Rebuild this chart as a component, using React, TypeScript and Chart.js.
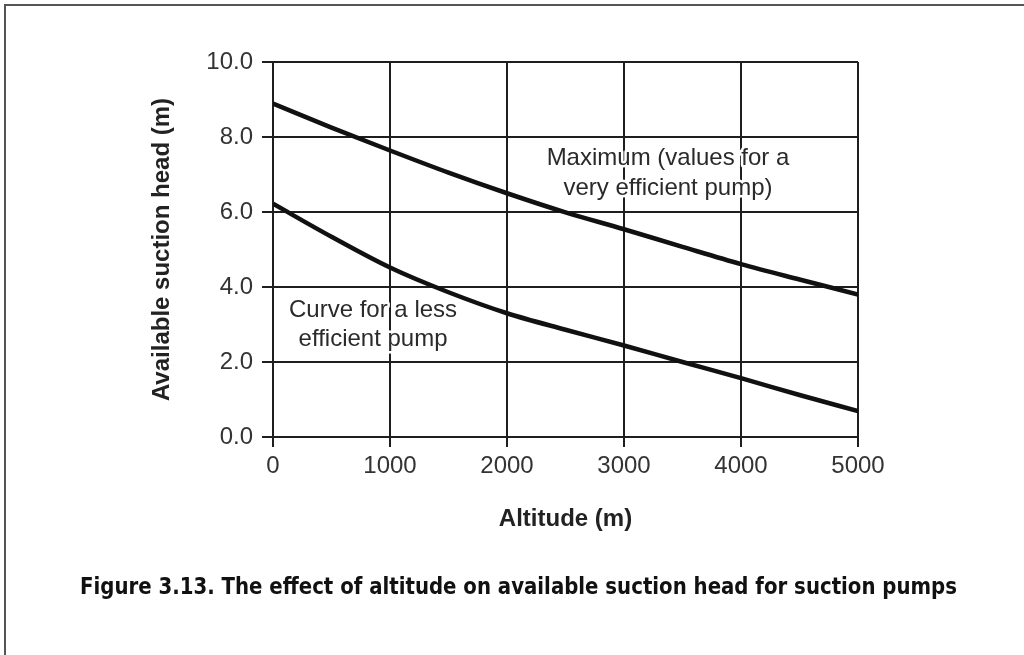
import React, { useEffect, useRef } from "react";
import { Chart, registerables } from "chart.js";

Chart.register(...registerables);

// Data
const ALTITUDES = [0, 500, 1000, 1500, 2000, 2500, 3000, 3500, 4000, 4500, 5000];
const MAX_HEAD = [8.89, 8.25, 7.64, 7.05, 6.5, 5.99, 5.54, 5.07, 4.61, 4.2, 3.8];
const LESS_HEAD = [6.22, 5.34, 4.52, 3.86, 3.3, 2.86, 2.44, 2.0, 1.57, 1.12, 0.69];
const X_TICKS = [0, 1000, 2000, 3000, 4000, 5000];
const Y_TICK_STEP = 2;

const X_TITLE = "Altitude (m)";
const Y_TITLE = "Available suction head (m)";
const MAX_LABEL = ["Maximum (values for a", "very efficient pump)"];
const LESS_LABEL = ["Curve for a less", "efficient pump"];
const CAPTION = "Figure 3.13. The effect of altitude on available suction head for suction pumps";

const FONT = '"Liberation Sans", Arial, Helvetica, sans-serif';
const INK = "#1e1e1e";

const decorPlugin = {
  id: "decor",
  afterDraw(chart: any) {
    const ctx = chart.ctx as CanvasRenderingContext2D;
    const xs = chart.scales.x;
    const ys = chart.scales.y;
    ctx.save();
    // Figure frame (top and left edges)
    ctx.strokeStyle = "#555";
    ctx.lineWidth = 2;
    ctx.beginPath();
    ctx.moveTo(1024, 5);
    ctx.lineTo(5, 5);
    ctx.lineTo(5, 655);
    ctx.stroke();

    // Curve annotations with white halo
    const drawLabel = (lines: string[], xv: number, yvs: number[]) => {
      ctx.font = `24px ${FONT}`;
      ctx.textAlign = "center";
      ctx.textBaseline = "middle";
      ctx.lineJoin = "round";
      lines.forEach((t, i) => {
        const px = xs.getPixelForValue(xv);
        const py = ys.getPixelForValue(yvs[i]);
        ctx.strokeStyle = "#fff";
        ctx.lineWidth = 5;
        ctx.strokeText(t, px, py);
        ctx.fillStyle = "#2a2a2a";
        ctx.fillText(t, px, py);
      });
    };
    drawLabel(MAX_LABEL, 3376, [7.44, 6.64]);
    drawLabel(LESS_LABEL, 855, [3.39, 2.61]);

    // Caption
    ctx.font = `bold 23px "Liberation Sans Narrow", "DejaVu Sans Condensed", sans-serif`;
    ctx.fillStyle = "#111";
    ctx.textAlign = "center";
    ctx.textBaseline = "middle";
    const w = ctx.measureText(CAPTION).width;
    const target = 877;
    ctx.translate(518.5, 588);
    ctx.scale(target / w, 1);
    ctx.fillText(CAPTION, 0, 0);
    ctx.restore();
  },
};

export default function App() {
  const ref = useRef<HTMLCanvasElement | null>(null);
  useEffect(() => {
    if (!ref.current) return;
    const chart = new Chart(ref.current, {
      type: "line",
      data: {
        datasets: [
          {
            label: "Maximum",
            data: ALTITUDES.map((a, i) => ({ x: a, y: MAX_HEAD[i] })),
            borderColor: "#111",
            borderWidth: 4.5,
            pointRadius: 0,
            tension: 0.4,
            cubicInterpolationMode: "monotone",
          },
          {
            label: "Less efficient",
            data: ALTITUDES.map((a, i) => ({ x: a, y: LESS_HEAD[i] })),
            borderColor: "#111",
            borderWidth: 4.5,
            pointRadius: 0,
            tension: 0.4,
            cubicInterpolationMode: "monotone",
          },
        ],
      },
      options: {
        responsive: false,
        animation: false,
        devicePixelRatio: 1,
        layout: { padding: { left: 140, top: 62, right: 166, bottom: 118 } },
        plugins: { legend: { display: false }, tooltip: { enabled: false } },
        scales: {
          x: {
            type: "linear",
            min: X_TICKS[0],
            max: X_TICKS[X_TICKS.length - 1],
            afterBuildTicks: (s: any) => {
              s.ticks = X_TICKS.map((v) => ({ value: v }));
            },
            afterFit: (s: any) => {
              s.height = 100;
            },
            ticks: {
              font: { family: FONT, size: 24 },
              color: "#333",
              padding: 5,
              maxRotation: 0,
              callback: (v: any) => String(v),
            },
            grid: { color: INK, lineWidth: 2, tickLength: 10, tickColor: INK },
            border: { display: true, color: INK, width: 2 },
            title: {
              display: true,
              text: X_TITLE,
              font: { family: FONT, size: 24, weight: "bold", lineHeight: 1.2 },
              color: "#222",
              padding: { top: 0, bottom: 3 },
            },
          },
          y: {
            type: "linear",
            min: 0,
            max: 10,
            ticks: {
              stepSize: Y_TICK_STEP,
              font: { family: FONT, size: 24 },
              color: "#333",
              padding: 9,
              callback: (v: any) => Number(v).toFixed(1),
            },
            afterFit: (s: any) => {
              s.width = 133;
            },
            grid: { color: INK, lineWidth: 2, tickLength: 11, tickColor: INK },
            border: { display: true, color: INK, width: 2 },
            title: {
              display: true,
              text: Y_TITLE,
              font: { family: FONT, size: 24, weight: "bold", lineHeight: 1.2 },
              color: "#222",
              padding: { top: 8, bottom: 0 },
            },
          },
        },
      },
      plugins: [decorPlugin],
    } as any);
    return () => chart.destroy();
  }, []);
  return (
    <div style={{ position: "absolute", left: 0, top: 0, width: 1024, height: 655, background: "#fff" }}>
      <canvas ref={ref} width={1024} height={655} style={{ display: "block" }} />
    </div>
  );
}
